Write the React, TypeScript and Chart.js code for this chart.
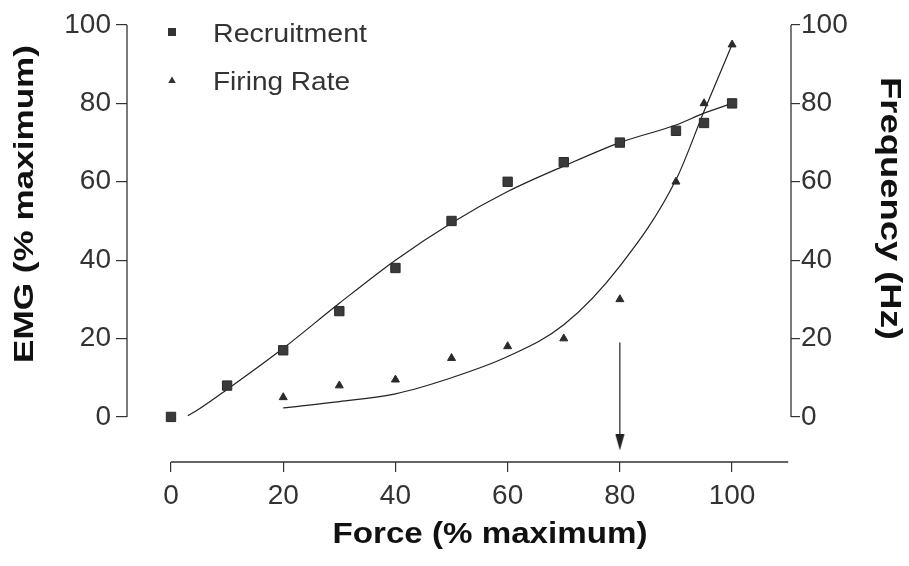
import React, { useEffect, useRef } from 'react';
import { Chart, registerables } from 'chart.js';

Chart.register(...registerables);

// ---- Data ----
const forceRecruit = [0, 10, 20, 30, 40, 50, 60, 70, 80, 90, 95, 100];
const emgRecruit = [0, 8, 17, 27, 38, 50, 60, 65, 70, 73, 75, 80];

const forceFiring = [20, 30, 40, 50, 60, 70, 80, 90, 95, 100];
const freqFiring = [5, 8, 9.5, 15, 18, 20, 30, 60, 80, 95];

const fitRecruitX = [3, 5, 10, 20, 30, 40, 50, 60, 70, 80, 90, 95, 100];
const fitRecruitY = [0.3, 2, 7, 17.5, 29, 40, 49.5, 57.5, 64, 70, 74.5, 77.5, 80];

const fitFiringX = [20, 30, 40, 50, 60, 70, 80, 90, 95, 100];
const fitFiringY = [2.3, 3.9, 5.9, 10, 15.4, 23.5, 38.5, 60.5, 78, 95];

const arrowX = [80, 80];
const arrowY = [19, -6.5];

const xTickValues = [0, 20, 40, 60, 80, 100];
const yTickValues = [0, 20, 40, 60, 80, 100];
const y2TickValues = [0, 20, 40, 60, 80, 100];

const legendLabels = ['Recruitment', 'Firing Rate'];
const xTitle = 'Force (% maximum)';
const yTitle = 'EMG (% maximum)';
const y2Title = 'Frequency (Hz)';

const FONT = "'Liberation Sans', Arial, Helvetica, sans-serif";
const INK = '#222';

const pts = (xs: number[], ys: number[]) => xs.map((x, i) => ({ x, y: ys[i] }));

function stretchedText(
  ctx: CanvasRenderingContext2D,
  text: string,
  x: number,
  y: number,
  font: string,
  width: number,
  rot: number,
  align: CanvasTextAlign
) {
  ctx.save();
  ctx.font = font;
  const w = ctx.measureText(text).width;
  ctx.translate(x, y);
  ctx.rotate(rot);
  ctx.scale(width / w, 1);
  ctx.textAlign = align;
  ctx.textBaseline = 'alphabetic';
  ctx.fillText(text, 0, 0);
  ctx.restore();
}

const decorPlugin = {
  id: 'decor',
  afterDraw(chart: any) {
    const ctx: CanvasRenderingContext2D = chart.ctx;
    const { x, y, y2 } = chart.scales;
    const area = chart.chartArea;
    ctx.save();
    // axis lines
    ctx.strokeStyle = '#333';
    ctx.lineWidth = 1.3;
    ctx.beginPath();
    ctx.moveTo(area.left, y.getPixelForValue(100));
    ctx.lineTo(area.left, y.getPixelForValue(0));
    ctx.moveTo(area.right, y2.getPixelForValue(100));
    ctx.lineTo(area.right, y2.getPixelForValue(0));
    ctx.moveTo(x.getPixelForValue(0), area.bottom);
    ctx.lineTo(x.getPixelForValue(110), area.bottom);
    ctx.stroke();

    // legend
    ctx.fillStyle = '#333';
    ctx.fillRect(168, 28, 8, 8);
    ctx.beginPath();
    ctx.moveTo(172, 76.5);
    ctx.lineTo(175.8, 83);
    ctx.lineTo(168.2, 83);
    ctx.closePath();
    ctx.fill();
    ctx.fillStyle = '#333';
    stretchedText(ctx, legendLabels[0], 213, 42, `25px ${FONT}`, 154, 0, 'left');
    stretchedText(ctx, legendLabels[1], 213, 89.5, `25px ${FONT}`, 137, 0, 'left');

    // axis titles
    ctx.fillStyle = '#111';
    stretchedText(ctx, yTitle, 33, 204, `bold 28px ${FONT}`, 318, -Math.PI / 2, 'center');
    stretchedText(ctx, y2Title, 881, 208.5, `bold 29px ${FONT}`, 263, Math.PI / 2, 'center');
    stretchedText(ctx, xTitle, 490, 543, `bold 29px ${FONT}`, 315, 0, 'center');
    ctx.restore();
  },
};

export default function App() {
  const ref = useRef<HTMLCanvasElement>(null);

  useEffect(() => {
    const canvas = ref.current;
    if (!canvas) return;

    const arrowHead = document.createElement('canvas');
    arrowHead.width = 10;
    arrowHead.height = 16;
    const actx = arrowHead.getContext('2d')!;
    actx.fillStyle = INK;
    actx.beginPath();
    actx.moveTo(0.5, 0);
    actx.lineTo(9.5, 0);
    actx.lineTo(5, 16);
    actx.closePath();
    actx.fill();

    const tickGrid = (len: number) => ({
      drawOnChartArea: false,
      drawTicks: true,
      tickLength: len,
      color: '#333',
      lineWidth: 1.2,
    });

    const chart = new Chart(canvas, {
      type: 'scatter',
      data: {
        datasets: [
          {
            label: 'Recruitment fit',
            data: pts(fitRecruitX, fitRecruitY),
            showLine: true,
            borderColor: INK,
            borderWidth: 1.2,
            pointRadius: 0,
            cubicInterpolationMode: 'monotone',
            yAxisID: 'y',
            order: 3,
          },
          {
            label: 'Firing fit',
            data: pts(fitFiringX, fitFiringY),
            showLine: true,
            borderColor: INK,
            borderWidth: 1.2,
            pointRadius: 0,
            cubicInterpolationMode: 'monotone',
            yAxisID: 'y2',
            order: 3,
          },
          {
            label: 'Arrow',
            data: pts(arrowX, arrowY),
            showLine: true,
            borderColor: INK,
            borderWidth: 1.2,
            pointRadius: [0, 5],
            pointStyle: arrowHead as any,
            yAxisID: 'y',
            order: 2,
          },
          {
            label: legendLabels[0],
            data: pts(forceRecruit, emgRecruit),
            pointStyle: 'rect',
            pointRadius: 6.6,
            backgroundColor: '#3a3a3a',
            borderColor: '#2a2a2a',
            borderWidth: 1,
            yAxisID: 'y',
            order: 1,
          },
          {
            label: legendLabels[1],
            data: pts(forceFiring, freqFiring),
            pointStyle: 'triangle',
            pointRadius: 4.6,
            backgroundColor: '#2a2a2a',
            borderColor: '#2a2a2a',
            borderWidth: 1,
            yAxisID: 'y2',
            order: 1,
          },
        ] as any,
      },
      options: {
        animation: false,
        responsive: false,
        maintainAspectRatio: false,
        layout: { padding: { top: 25, left: 0, right: 0, bottom: 0 } },
        plugins: {
          legend: { display: false },
          tooltip: { enabled: false },
        },
        scales: {
          x: {
            type: 'linear',
            min: -7.84,
            max: 110.5,
            afterBuildTicks: (s: any) => {
              s.ticks = xTickValues.map((v) => ({ value: v }));
            },
            afterFit: (s: any) => {
              s.height = 104;
            },
            grid: tickGrid(10),
            border: { display: false },
            ticks: {
              font: { family: FONT, size: 28 },
              color: '#333',
              padding: 7,
              maxRotation: 0,
              autoSkip: false,
            },
          },
          y: {
            type: 'linear',
            position: 'left',
            min: -11.5,
            max: 100,
            afterBuildTicks: (s: any) => {
              s.ticks = yTickValues.map((v) => ({ value: v }));
            },
            afterFit: (s: any) => {
              s.width = 127;
            },
            grid: tickGrid(11),
            border: { display: false },
            ticks: {
              font: { family: FONT, size: 28 },
              color: '#333',
              padding: 5,
              autoSkip: false,
            },
          },
          y2: {
            type: 'linear',
            position: 'right',
            min: -11.5,
            max: 100,
            afterBuildTicks: (s: any) => {
              s.ticks = y2TickValues.map((v) => ({ value: v }));
            },
            afterFit: (s: any) => {
              s.width = 118;
            },
            grid: tickGrid(9),
            border: { display: false },
            ticks: {
              font: { family: FONT, size: 28 },
              color: '#333',
              padding: 1,
              autoSkip: false,
            },
          },
        },
      } as any,
      plugins: [decorPlugin],
    });

    return () => chart.destroy();
  }, []);

  return (
    <div
      style={{
        position: 'fixed',
        left: 0,
        top: 0,
        width: 909,
        height: 566,
        background: '#fff',
      }}
    >
      <canvas ref={ref} width={909} height={566} style={{ display: 'block', width: 909, height: 566 }} />
    </div>
  );
}
